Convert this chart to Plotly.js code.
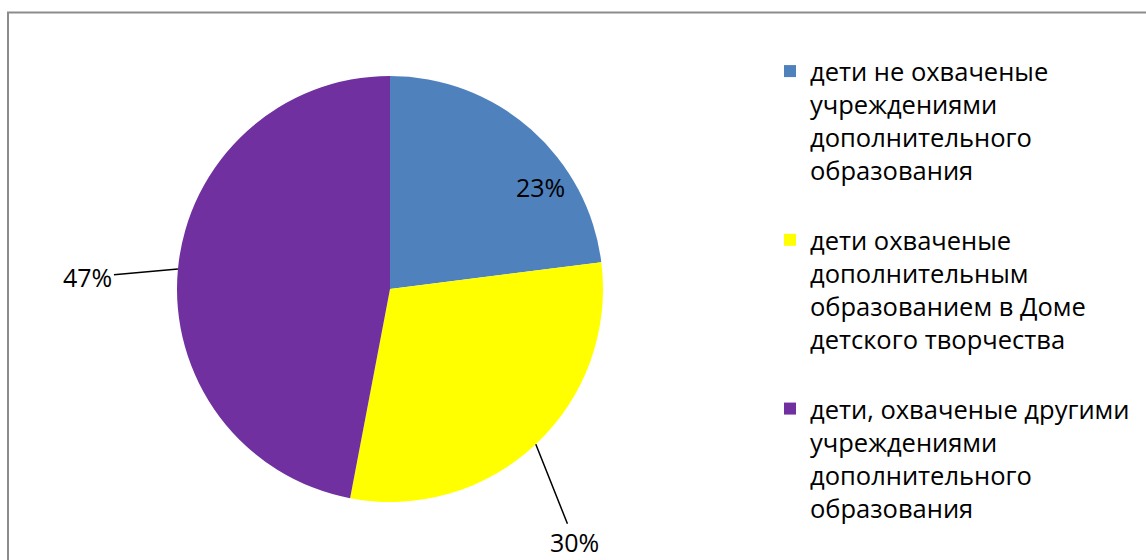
<!DOCTYPE html>
<html>
<head>
<meta charset="utf-8">
<script src="https://cdn.plot.ly/plotly-3.0.1.min.js"></script>
<style>html,body{margin:0;padding:0;background:#fff}#chart{width:1146px;height:560px}</style>
</head>
<body>
<div id="chart"></div>
<script>
const categories = [
  "дети не охваченые<br>учреждениями<br>дополнительного<br>образования<br>&nbsp;",
  "дети охваченые<br>дополнительным<br>образованием в Доме<br>детского творчества<br>&nbsp;",
  "дети, охваченые другими<br>учреждениями<br>дополнительного<br>образования"
];
const values = [23, 30, 47];
const colors = ["#4F81BD", "#FFFF00", "#7030A0"];

const W = 1146, H = 560;
const cxPx = 390, cyPx = 289, R = 213;
const total = values.reduce((a, b) => a + b, 0);

// label placement offsets (px) relative to slice mid-point on the rim
const labelOffsets = [
  {arrow: false, dx: 10, dy: 58},
  {arrow: true, dx: 39, dy: 98},
  {arrow: true, dx: -90, dy: 8}
];

const annotations = [];
let acc = 0;
values.forEach((v, i) => {
  const mid = (acc + v / 2) / total * 2 * Math.PI;
  acc += v;
  const px = cxPx + R * Math.sin(mid);
  const py = cyPx - R * Math.cos(mid);
  const o = labelOffsets[i];
  const txt = Math.round(v / total * 100) + "%";
  const a = {
    xref: "paper", yref: "paper",
    x: px / W, y: 1 - py / H,
    text: txt,
    font: {family: "Open Sans, sans-serif", size: 25, color: "#000"}
  };
  if (o.arrow) {
    Object.assign(a, {showarrow: true, arrowhead: 0, arrowwidth: 1.5, arrowcolor: "#000", ax: o.dx, ay: o.dy, standoff: 0});
  } else {
    Object.assign(a, {showarrow: false, xanchor: "center", yanchor: "middle", xshift: o.dx, yshift: -o.dy});
  }
  annotations.push(a);
});

const data = [{
  type: "pie",
  labels: categories,
  values: values,
  marker: {colors: colors, line: {width: 0}},
  sort: false,
  direction: "clockwise",
  rotation: 0,
  textinfo: "none",
  hoverinfo: "label+percent",
  domain: {x: [(cxPx - R) / W, (cxPx + R) / W], y: [1 - (cyPx + R) / H, 1 - (cyPx - R) / H]}
}];

const layout = {
  width: W, height: H,
  margin: {l: 0, r: 0, t: 0, b: 0},
  paper_bgcolor: "#fff",
  showlegend: true,
  legend: {
    x: 770 / W, y: 1 - 48 / H, xanchor: "left", yanchor: "top",
    font: {family: "Open Sans, sans-serif", size: 25.5, color: "#000"},
    valign: "top",
    traceorder: "normal"
  },
  annotations: annotations,
  shapes: [{
    type: "rect", xref: "paper", yref: "paper",
    x0: 8 / W, x1: 1.02, y0: -0.02, y1: 1 - 12.5 / H,
    line: {color: "#8C8C8C", width: 2}, fillcolor: "rgba(0,0,0,0)"
  }]
};

Plotly.newPlot("chart", data, layout, {displayModeBar: false, staticPlot: true});
</script>
</body>
</html>
